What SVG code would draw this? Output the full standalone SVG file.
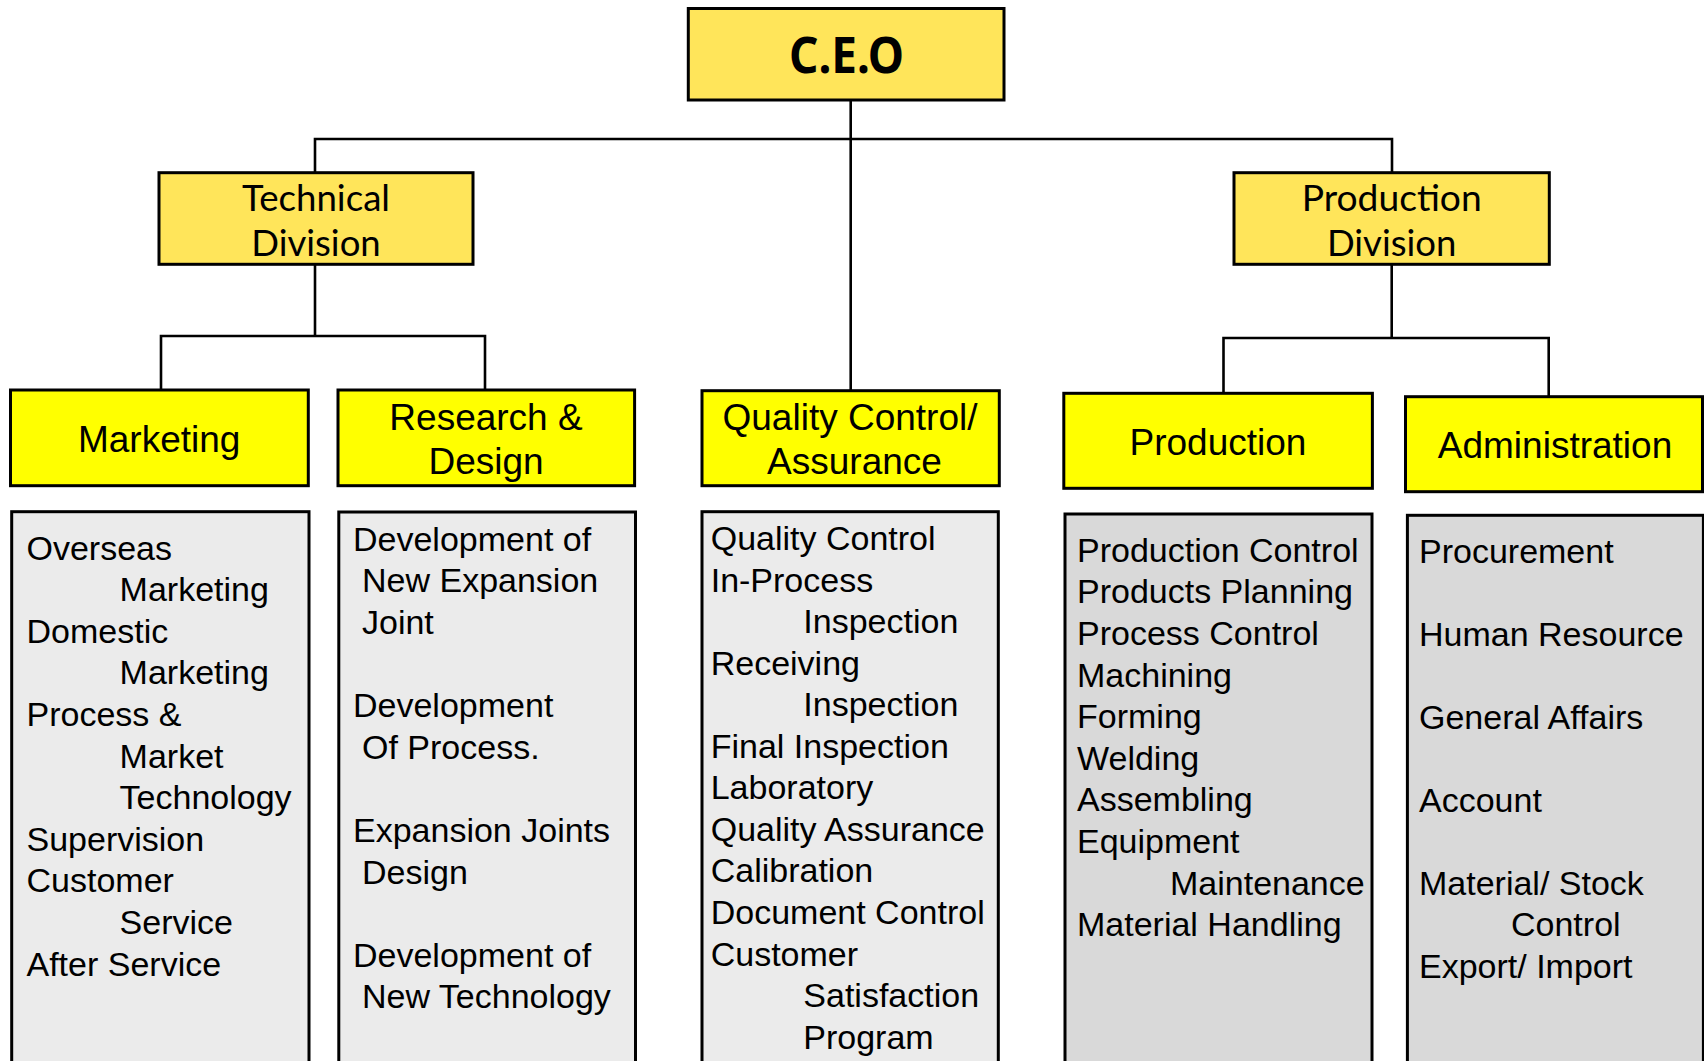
<svg xmlns="http://www.w3.org/2000/svg" width="1704" height="1061" viewBox="0 0 1704 1061">
<style>
.hd{fill:#FFE55A;stroke:#000;stroke-width:3}
.dp{fill:#FFFF00;stroke:#000;stroke-width:3}
.l1{fill:#EBEBEB;stroke:#000;stroke-width:3}
.l2{fill:#D9D9D9;stroke:#000;stroke-width:3}
.seg{font-family:Lato,"Noto Sans",sans-serif;font-size:37px;text-anchor:middle;fill:#000}
.ceo{font-family:"Noto Sans","Open Sans",sans-serif;font-size:50px;font-weight:bold;text-anchor:middle;fill:#000}
.ar{font-family:"Liberation Sans",Arial,sans-serif;font-size:37px;text-anchor:middle;fill:#000}
.li{font-family:"Liberation Sans",Arial,sans-serif;font-size:34px;fill:#000}
.cn{fill:none;stroke:#000;stroke-width:2.6}
</style>
<rect width="1704" height="1061" fill="#fff"/>
<g id="connectors">
<path class="cn" d="M850.7 100 V390"/>
<path class="cn" d="M315 172.7 V139 H1392 V172.7"/>
<path class="cn" d="M315 264 V336"/>
<path class="cn" d="M161 390 V336 H485 V390"/>
<path class="cn" d="M1391.7 264 V338"/>
<path class="cn" d="M1223.5 393.3 V338 H1548.7 V396.7"/>
</g>
<g id="ceo">
<rect class="hd" x="688.3" y="8.5" width="315.7" height="91.5"/>
<text class="ceo" x="846.5" y="72.7" textLength="115" lengthAdjust="spacingAndGlyphs">C.E.O</text>
</g>
<g id="technical-division">
<rect class="hd" x="159" y="172.7" width="314" height="91.6"/>
<text class="seg" x="316" y="210.7" textLength="148" lengthAdjust="spacingAndGlyphs">Technical</text>
<text class="seg" x="316" y="256" textLength="129.5" lengthAdjust="spacingAndGlyphs">Division</text>
</g>
<g id="production-division">
<rect class="hd" x="1234" y="172.7" width="315.3" height="91.6"/>
<text class="seg" x="1391.7" y="210.7" textLength="180" lengthAdjust="spacingAndGlyphs">Production</text>
<text class="seg" x="1391.7" y="256" textLength="129.5" lengthAdjust="spacingAndGlyphs">Division</text>
</g>
<g id="marketing">
<rect class="dp" x="10.5" y="390" width="297.8" height="95.7"/>
<text class="ar" x="159.2" y="451.7">Marketing</text>
</g>
<g id="research-design">
<rect class="dp" x="338" y="390" width="296.6" height="95.7"/>
<text class="ar" x="486" y="429.5">Research &amp;</text>
<text class="ar" x="486" y="473.6">Design</text>
</g>
<g id="quality-control">
<rect class="dp" x="702" y="390.7" width="297.3" height="95"/>
<text class="ar" x="850" y="430">Quality Control/</text>
<text class="ar" x="854.5" y="474">Assurance</text>
</g>
<g id="production">
<rect class="dp" x="1063.8" y="393.3" width="308.6" height="95"/>
<text class="ar" x="1218" y="455">Production</text>
</g>
<g id="administration">
<rect class="dp" x="1405.5" y="396.7" width="297" height="95"/>
<text class="ar" x="1555" y="458.3">Administration</text>
</g>
<g id="marketing-list">
<rect class="l1" x="11.7" y="511.7" width="297.3" height="570"/>
<text class="li">
<tspan x="26.5" y="559.5">Overseas</tspan>
<tspan x="119.6" y="601.1">Marketing</tspan>
<tspan x="26.5" y="642.7">Domestic</tspan>
<tspan x="119.6" y="684.3">Marketing</tspan>
<tspan x="26.5" y="725.9">Process &amp;</tspan>
<tspan x="119.6" y="767.5">Market</tspan>
<tspan x="119.6" y="809.1">Technology</tspan>
<tspan x="26.5" y="850.7">Supervision</tspan>
<tspan x="26.5" y="892.3">Customer</tspan>
<tspan x="119.6" y="933.9">Service</tspan>
<tspan x="26.5" y="975.5">After Service</tspan>
</text>
</g>
<g id="research-design-list">
<rect class="l1" x="338.8" y="512" width="296.7" height="570"/>
<text class="li">
<tspan x="353" y="550.7">Development of</tspan>
<tspan x="362" y="592.3">New Expansion</tspan>
<tspan x="362" y="633.9">Joint</tspan>
<tspan x="353" y="717.1">Development</tspan>
<tspan x="362" y="758.7">Of Process.</tspan>
<tspan x="353" y="841.9">Expansion Joints</tspan>
<tspan x="362" y="883.5">Design</tspan>
<tspan x="353" y="966.7">Development of</tspan>
<tspan x="362" y="1008.3">New Technology</tspan>
</text>
</g>
<g id="quality-control-list">
<rect class="l1" x="702" y="511.7" width="296.3" height="570"/>
<text class="li">
<tspan x="710.7" y="550">Quality Control</tspan>
<tspan x="710.7" y="591.6">In-Process</tspan>
<tspan x="803.3" y="633.1">Inspection</tspan>
<tspan x="710.7" y="674.7">Receiving</tspan>
<tspan x="803.3" y="716.2">Inspection</tspan>
<tspan x="710.7" y="757.8">Final Inspection</tspan>
<tspan x="710.7" y="799.3">Laboratory</tspan>
<tspan x="710.7" y="840.9">Quality Assurance</tspan>
<tspan x="710.7" y="882.4">Calibration</tspan>
<tspan x="710.7" y="924">Document Control</tspan>
<tspan x="710.7" y="965.5">Customer</tspan>
<tspan x="803.3" y="1007.1">Satisfaction</tspan>
<tspan x="803.3" y="1048.6">Program</tspan>
</text>
</g>
<g id="production-list">
<rect class="l2" x="1065" y="514" width="307" height="570"/>
<text class="li">
<tspan x="1077" y="561.7">Production Control</tspan>
<tspan x="1077" y="603.3">Products Planning</tspan>
<tspan x="1077" y="644.9">Process Control</tspan>
<tspan x="1077" y="686.5">Machining</tspan>
<tspan x="1077" y="728.1">Forming</tspan>
<tspan x="1077" y="769.7">Welding</tspan>
<tspan x="1077" y="811.3">Assembling</tspan>
<tspan x="1077" y="852.9">Equipment</tspan>
<tspan x="1170" y="894.5">Maintenance</tspan>
<tspan x="1077" y="936.1">Material Handling</tspan>
</text>
</g>
<g id="administration-list">
<rect class="l2" x="1407.4" y="515.3" width="296" height="570"/>
<text class="li">
<tspan x="1419" y="562.7">Procurement</tspan>
<tspan x="1419" y="645.7">Human Resource</tspan>
<tspan x="1419" y="728.7">General Affairs</tspan>
<tspan x="1419" y="811.7">Account</tspan>
<tspan x="1419" y="894.7">Material/ Stock</tspan>
<tspan x="1511" y="936.2">Control</tspan>
<tspan x="1419" y="977.7">Export/ Import</tspan>
</text>
</g>
</svg>
